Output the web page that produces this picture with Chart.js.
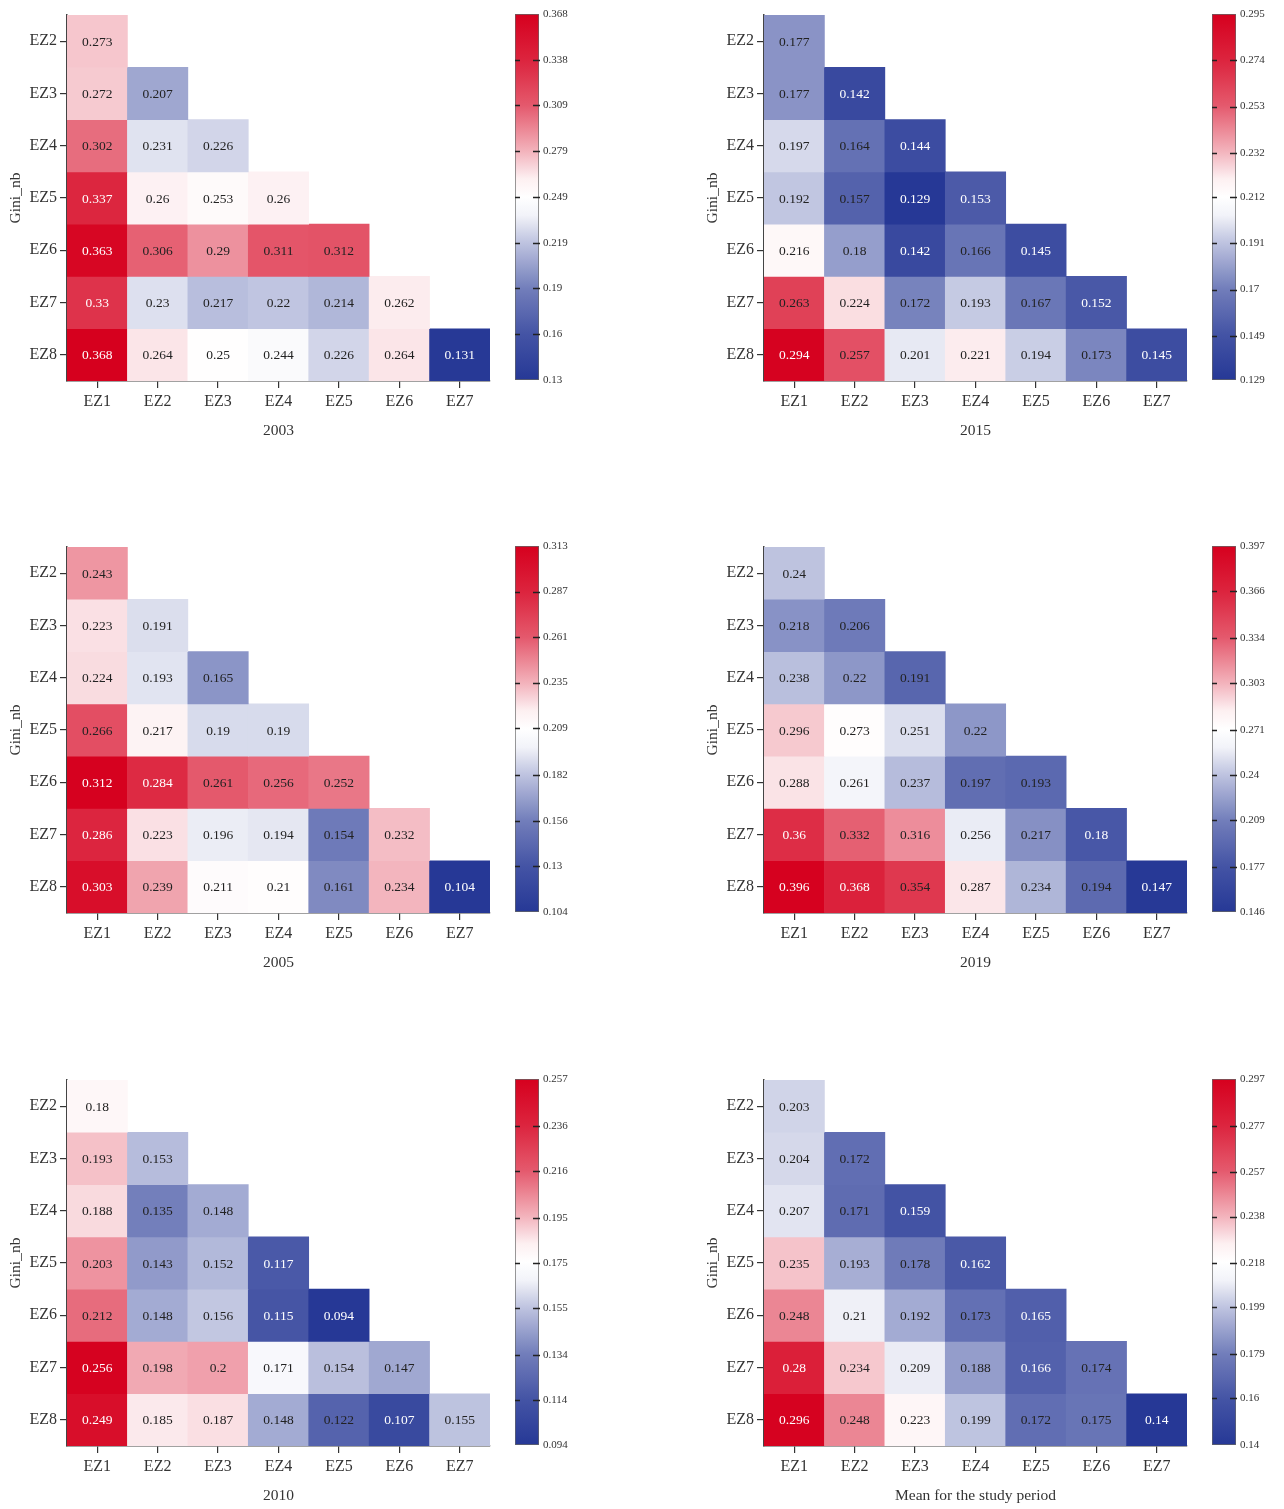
<!DOCTYPE html>
<html>
<head>
<meta charset="utf-8">
<title>Gini_nb heatmaps</title>
<script src="https://cdn.jsdelivr.net/npm/chart.js@4.4.1/dist/chart.umd.min.js"></script>
<style>
  body { margin: 0; background: #fff; }
  #page { position: relative; width: 1284px; height: 1509px; background: #fff; }
  canvas { position: absolute; }
</style>
</head>
<body>
<div id="page"></div>
<script>
// Zone labels
const colZones = ['EZ1', 'EZ2', 'EZ3', 'EZ4', 'EZ5', 'EZ6', 'EZ7'];
const rowZones = ['EZ2', 'EZ3', 'EZ4', 'EZ5', 'EZ6', 'EZ7', 'EZ8'];

// Gini_nb, lower triangle: one row per zone EZ2..EZ8, columns from EZ1
const gini2003 = [
    [0.273],
    [0.272, 0.207],
    [0.302, 0.231, 0.226],
    [0.337, 0.26, 0.253, 0.26],
    [0.363, 0.306, 0.29, 0.311, 0.312],
    [0.33, 0.23, 0.217, 0.22, 0.214, 0.262],
    [0.368, 0.264, 0.25, 0.244, 0.226, 0.264, 0.131]
];
const gini2005 = [
    [0.243],
    [0.223, 0.191],
    [0.224, 0.193, 0.165],
    [0.266, 0.217, 0.19, 0.19],
    [0.312, 0.284, 0.261, 0.256, 0.252],
    [0.286, 0.223, 0.196, 0.194, 0.154, 0.232],
    [0.303, 0.239, 0.211, 0.21, 0.161, 0.234, 0.104]
];
const gini2010 = [
    [0.18],
    [0.193, 0.153],
    [0.188, 0.135, 0.148],
    [0.203, 0.143, 0.152, 0.117],
    [0.212, 0.148, 0.156, 0.115, 0.094],
    [0.256, 0.198, 0.2, 0.171, 0.154, 0.147],
    [0.249, 0.185, 0.187, 0.148, 0.122, 0.107, 0.155]
];
const gini2015 = [
    [0.177],
    [0.177, 0.142],
    [0.197, 0.164, 0.144],
    [0.192, 0.157, 0.129, 0.153],
    [0.216, 0.18, 0.142, 0.166, 0.145],
    [0.263, 0.224, 0.172, 0.193, 0.167, 0.152],
    [0.294, 0.257, 0.201, 0.221, 0.194, 0.173, 0.145]
];
const gini2019 = [
    [0.24],
    [0.218, 0.206],
    [0.238, 0.22, 0.191],
    [0.296, 0.273, 0.251, 0.22],
    [0.288, 0.261, 0.237, 0.197, 0.193],
    [0.36, 0.332, 0.316, 0.256, 0.217, 0.18],
    [0.396, 0.368, 0.354, 0.287, 0.234, 0.194, 0.147]
];
const giniMean = [
    [0.203],
    [0.204, 0.172],
    [0.207, 0.171, 0.159],
    [0.235, 0.193, 0.178, 0.162],
    [0.248, 0.21, 0.192, 0.173, 0.165],
    [0.28, 0.234, 0.209, 0.188, 0.166, 0.174],
    [0.296, 0.248, 0.223, 0.199, 0.172, 0.175, 0.14]
];

// Colorbar tick labels
const ticks2003 = [0.13, 0.16, 0.19, 0.219, 0.249, 0.279, 0.309, 0.338, 0.368];
const ticks2005 = [0.104, 0.13, 0.156, 0.182, 0.209, 0.235, 0.261, 0.287, 0.313];
const ticks2010 = [0.094, 0.114, 0.134, 0.155, 0.175, 0.195, 0.216, 0.236, 0.257];
const ticks2015 = [0.129, 0.149, 0.17, 0.191, 0.212, 0.232, 0.253, 0.274, 0.295];
const ticks2019 = [0.146, 0.177, 0.209, 0.24, 0.271, 0.303, 0.334, 0.366, 0.397];
const ticksMean = [0.14, 0.16, 0.179, 0.199, 0.218, 0.238, 0.257, 0.277, 0.297];

const panelTitles = ['2003', '2005', '2010', '2015', '2019', 'Mean for the study period'];
const panelValues = [gini2003, gini2005, gini2010, gini2015, gini2019, giniMean];
const panelTicks = [ticks2003, ticks2005, ticks2010, ticks2015, ticks2019, ticksMean];

// Layout: left column then right column
const colLeft = [0, 697];
const rowTop = [0, 532, 1065];

const serif = "'Liberation Serif', 'Times New Roman', serif";
const textColor = '#333';

// Diverging blue - white - red colormap
const lowRGB = [38, 56, 150];
const highRGB = [214, 0, 30];
// distance from the centre -> amount of colour (pale band round the middle)
const rampIn = [0, 0.1, 0.25, 0.5, 0.75, 1];
const rampOut = [0, 0.06, 0.3, 0.65, 0.86, 1];

function ramp(d) {
    for (let k = 1; k < rampIn.length; k++) {
        if (d <= rampIn[k]) {
            const f = (d - rampIn[k - 1]) / (rampIn[k] - rampIn[k - 1]);
            return rampOut[k - 1] + f * (rampOut[k] - rampOut[k - 1]);
        }
    }
    return 1;
}

function colorAt(t) {
    t = Math.max(0, Math.min(1, t));
    const end = t < 0.5 ? lowRGB : highRGB;
    const d = ramp(Math.abs(t - 0.5) * 2);
    const c = end.map(v => Math.round(255 + (v - 255) * d));
    return `rgb(${c[0]}, ${c[1]}, ${c[2]})`;
}

// Draw the value in the middle of every cell
const cellLabels = {
    id: 'cellLabels',
    afterDatasetsDraw(chart) {
        const ctx = chart.ctx;
        const lo = chart.options.plugins.cellLabels.lo;
        const hi = chart.options.plugins.cellLabels.hi;
        ctx.save();
        ctx.font = `13.5px ${serif}`;
        ctx.textAlign = 'center';
        ctx.textBaseline = 'middle';
        chart.data.datasets.forEach((ds, i) => {
            const meta = chart.getDatasetMeta(i);
            meta.data.forEach((bar, j) => {
                const v = ds.values[j];
                if (v == null) return;
                const t = (v - lo) / (hi - lo);
                ctx.fillStyle = Math.abs(t - 0.5) * 2 > 0.666 ? '#fff' : '#222';
                ctx.fillText(String(v), bar.x, (bar.y + bar.base) / 2 + 1);
            });
        });
        ctx.restore();
    }
};

// Small dashes on both edges of the colorbar
const colorbarTicks = {
    id: 'colorbarTicks',
    afterDatasetsDraw(chart) {
        const ctx = chart.ctx;
        const y = chart.scales.y;
        const { left, right } = chart.chartArea;
        ctx.save();
        ctx.strokeStyle = '#222';
        ctx.lineWidth = 1.5;
        y.ticks.forEach((t, i) => {
            if (i === 0 || i === y.ticks.length - 1) return;
            const py = Math.round(y.getPixelForValue(t.value)) + 0.5;
            ctx.beginPath();
            ctx.moveTo(left, py);
            ctx.lineTo(left + 5, py);
            ctx.moveTo(right - 6, py);
            ctx.lineTo(right + 1, py);
            ctx.stroke();
        });
        ctx.restore();
    }
};

function addCanvas(left, top, width, height) {
    const canvas = document.createElement('canvas');
    canvas.width = width;
    canvas.height = height;
    canvas.style.left = left + 'px';
    canvas.style.top = top + 'px';
    canvas.style.width = width + 'px';
    canvas.style.height = height + 'px';
    document.getElementById('page').appendChild(canvas);
    return canvas;
}

function makeHeatmap(canvas, title, values, ticks) {
    const lo = ticks[0];
    const hi = ticks[ticks.length - 1];
    const datasets = rowZones.map((zone, r) => {
        const row = values[r];
        return {
            label: zone,
            values: colZones.map((_, c) => c < row.length ? row[c] : null),
            data: colZones.map((_, c) => c < row.length ? [r, r + 1] : null),
            backgroundColor: colZones.map((_, c) => c < row.length ? colorAt((row[c] - lo) / (hi - lo)) : 'rgba(0,0,0,0)'),
            borderWidth: 0,
            grouped: false,
            barPercentage: 1,
            categoryPercentage: 1
        };
    });

    new Chart(canvas, {
        type: 'bar',
        data: { labels: colZones, datasets },
        options: {
            animation: false,
            responsive: false,
            layout: { padding: { top: 15, right: 10, left: 0, bottom: 0 } },
            plugins: {
                legend: { display: false },
                tooltip: { enabled: false },
                cellLabels: { lo, hi }
            },
            scales: {
                x: {
                    grid: { display: true, drawOnChartArea: false, offset: false, tickLength: 7, color: '#333', lineWidth: 1.2 },
                    border: { display: true, color: '#444', width: 1.5 },
                    ticks: { color: textColor, font: { family: serif, size: 16 }, padding: 4 },
                    title: { display: true, text: title, color: textColor, font: { family: serif, size: 15.5 }, padding: 4 },
                    afterFit: s => { s.height = 63; }
                },
                y: {
                    type: 'linear',
                    min: 0,
                    max: 7,
                    reverse: true,
                    afterBuildTicks: s => { s.ticks = rowZones.map((_, r) => ({ value: r + 0.5 })); },
                    grid: { display: true, drawOnChartArea: false, tickLength: 7, color: '#333', lineWidth: 1.2 },
                    border: { display: true, color: '#444', width: 1.5 },
                    ticks: {
                        color: textColor,
                        font: { family: serif, size: 16 },
                        padding: 3,
                        callback: v => rowZones[Math.floor(v)]
                    },
                    title: { display: true, text: 'Gini_nb', color: textColor, font: { family: serif, size: 15.5 }, padding: { top: 7, bottom: 4 } },
                    afterFit: s => { s.width = 67; }
                }
            }
        },
        plugins: [cellLabels]
    });
}

function makeColorbar(canvas, ticks) {
    const lo = ticks[0];
    const hi = ticks[ticks.length - 1];
    new Chart(canvas, {
        type: 'bar',
        data: {
            labels: [''],
            datasets: [{
                data: [[lo, hi]],
                backgroundColor: ctx => {
                    const area = ctx.chart.chartArea;
                    if (!area) return '#fff';
                    const g = ctx.chart.ctx.createLinearGradient(0, area.bottom, 0, area.top);
                    for (let k = 0; k <= 40; k++) g.addColorStop(k / 40, colorAt(k / 40));
                    return g;
                },
                borderColor: '#666',
                borderWidth: 1,
                borderSkipped: false,
                barPercentage: 1,
                categoryPercentage: 1
            }]
        },
        options: {
            animation: false,
            responsive: false,
            layout: { padding: { top: 14, bottom: 20, left: 5, right: 0 } },
            plugins: { legend: { display: false }, tooltip: { enabled: false } },
            scales: {
                x: { display: false },
                y: {
                    position: 'right',
                    min: lo,
                    max: hi,
                    afterBuildTicks: s => { s.ticks = ticks.map(v => ({ value: v })); },
                    grid: { display: false, drawTicks: false, tickLength: 0 },
                    border: { display: false },
                    ticks: { color: textColor, font: { family: serif, size: 11 }, padding: 4, callback: v => String(v) },
                    afterFit: s => { s.width = 40; }
                }
            }
        },
        plugins: [colorbarTicks]
    });
}

panelTitles.forEach((title, i) => {
    const left = colLeft[Math.floor(i / 3)];
    const top = rowTop[i % 3];
    makeHeatmap(addCanvas(left, top, 500, 444), title, panelValues[i], panelTicks[i]);
    makeColorbar(addCanvas(left + 510, top, 69, 400), panelTicks[i]);
});
</script>
</body>
</html>
